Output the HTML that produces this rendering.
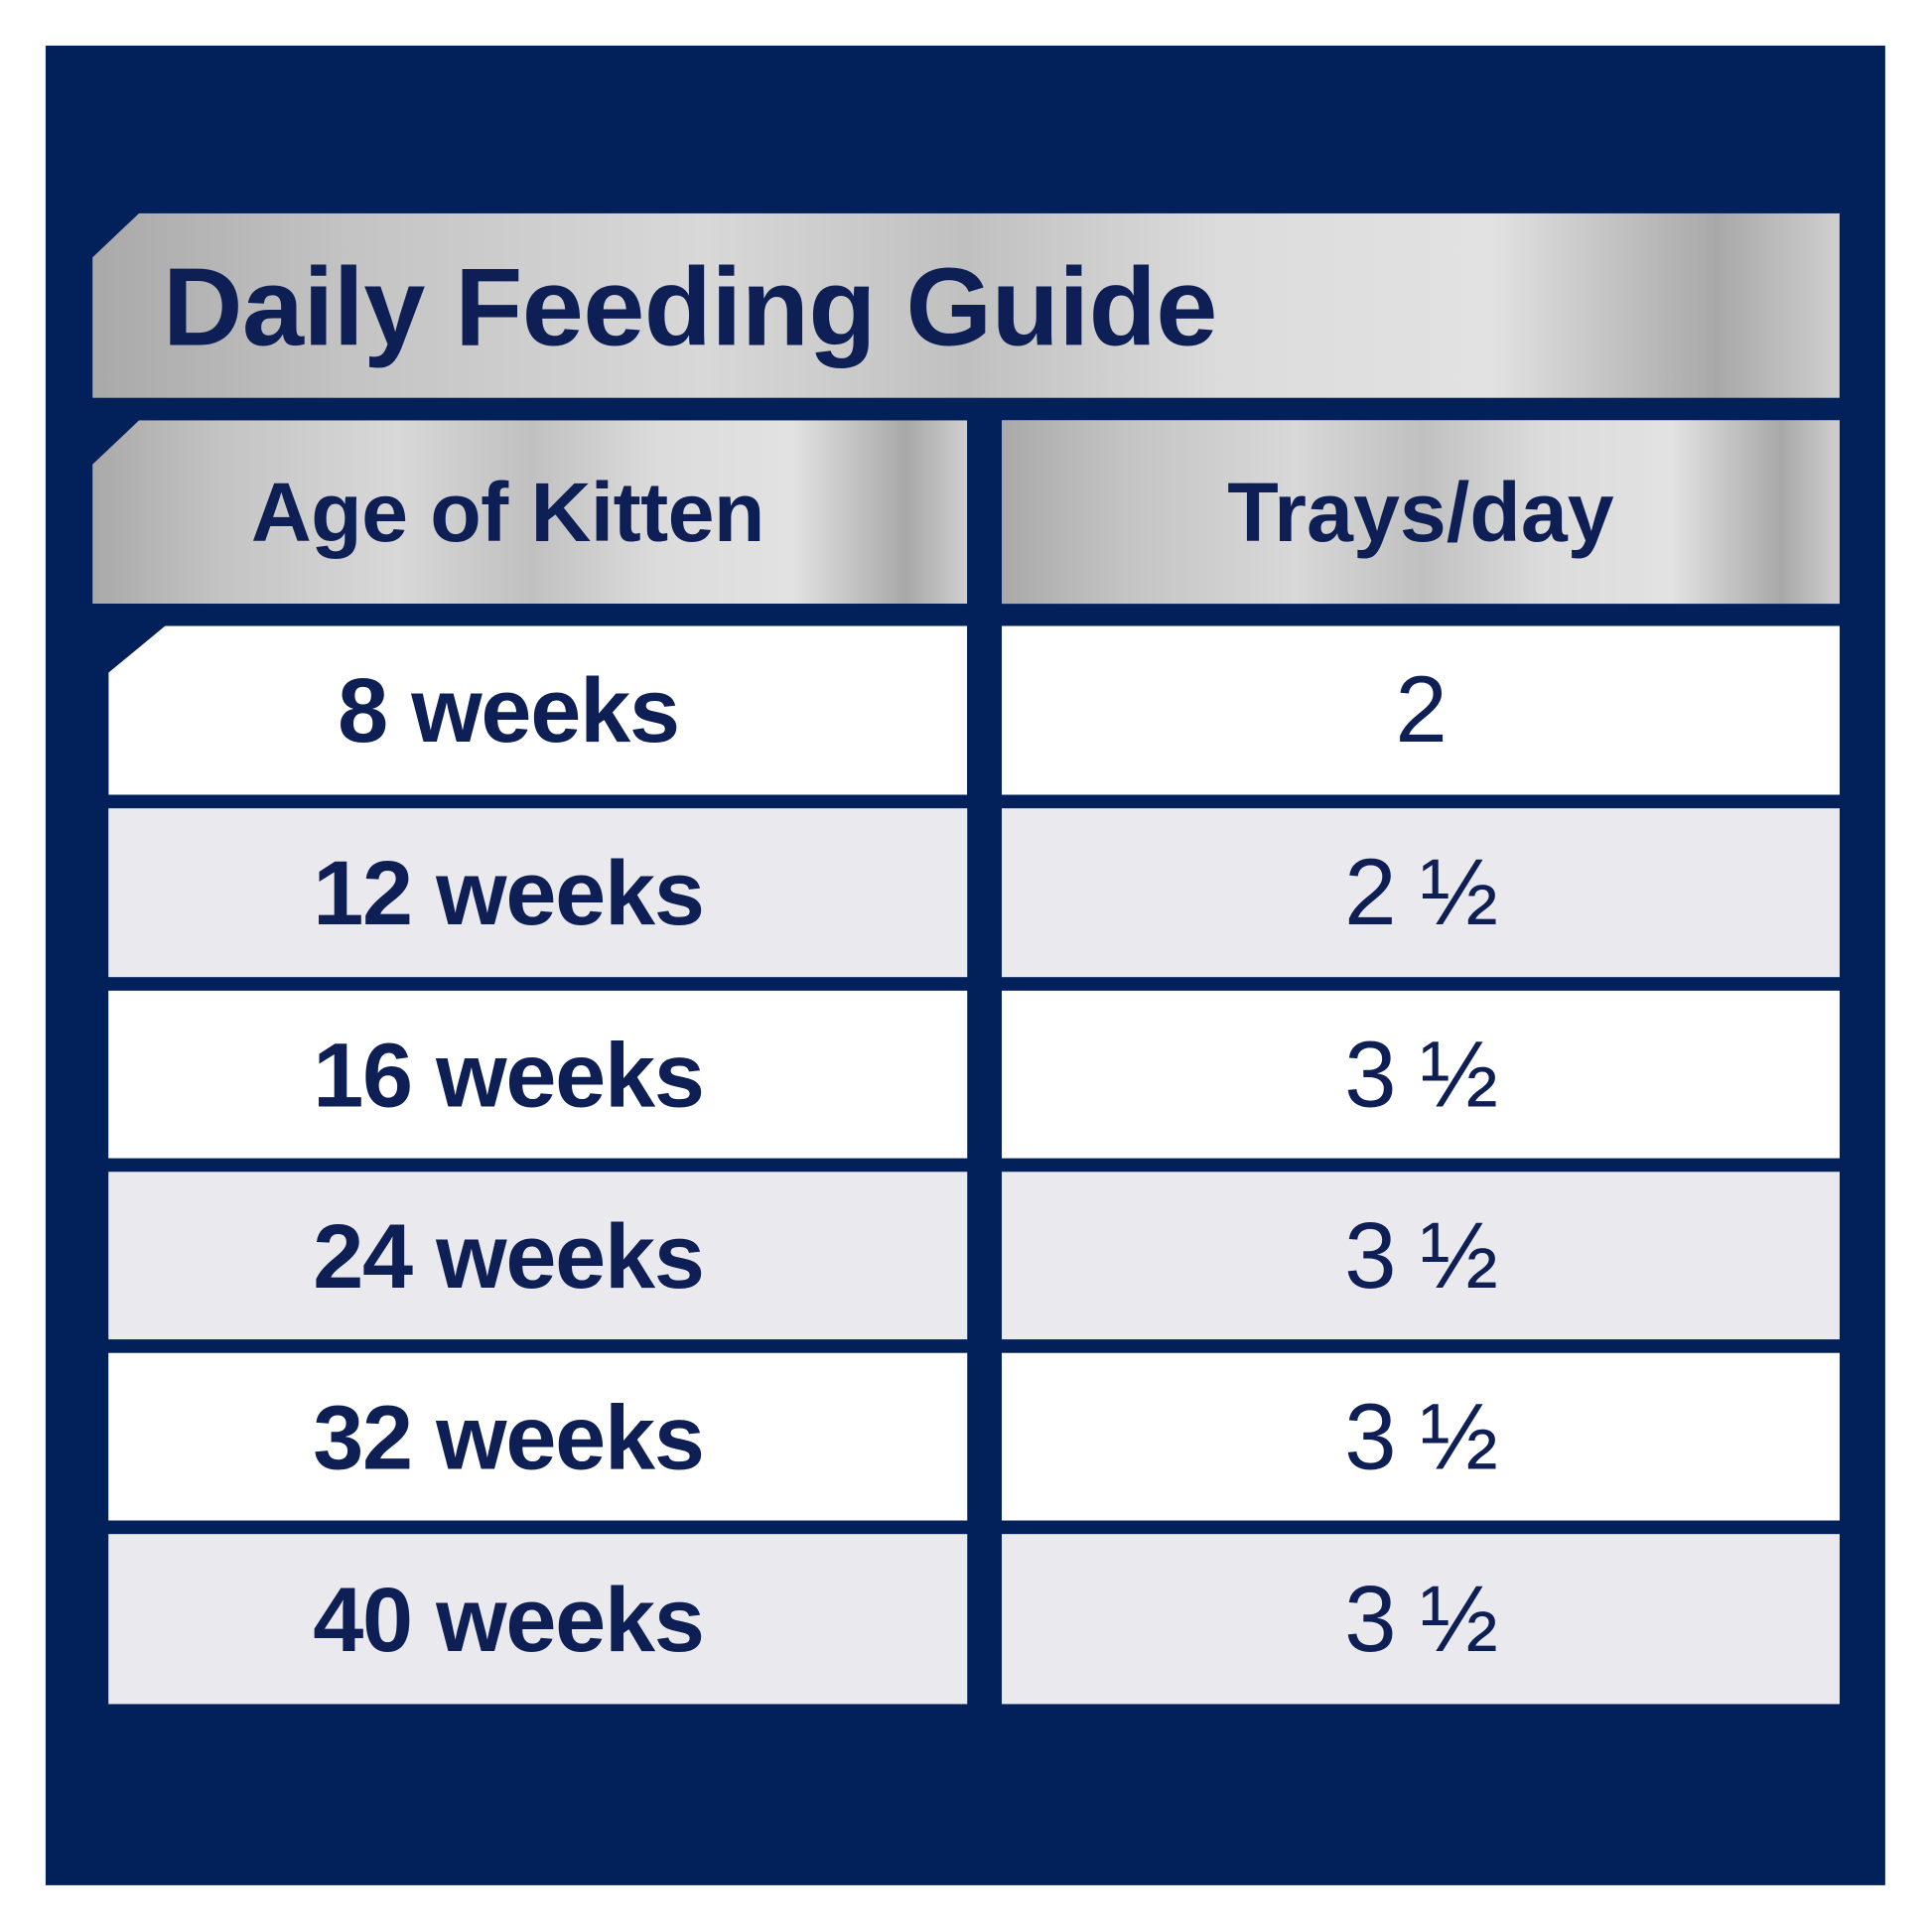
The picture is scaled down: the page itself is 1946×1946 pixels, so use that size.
<!DOCTYPE html>
<html><head><style>
html,body{margin:0;padding:0;background:#fff;}
#w{width:1568px;height:1568px;position:relative;transform:scale(1.2411);transform-origin:0 0;font-family:"Liberation Sans",sans-serif;color:#0e1f55;}
.a{position:absolute;}
.s{background:linear-gradient(90deg,#a9a9a9 0%,#c4c4c4 15%,#d8d8d8 35%,#c0c0c0 50%,#dcdcdc 65%,#e2e2e2 80%,#a8a8a8 93%,#cfcfcf 100%);}
.c{display:flex;align-items:center;justify-content:center;font-weight:bold;font-size:74px;letter-spacing:-1px;}
.l{padding-right:48px;box-sizing:border-box;}
.w{background:#fff}.g{background:#e9e9ee}
.n{font-weight:normal;font-size:76px;}
</style></head><body><div id="w">
<div class="a" style="left:37px;top:37px;width:1493px;height:1493px;background:#02205a"></div>
<div class="a s" style="left:75px;top:173px;width:1418px;height:150px;clip-path:polygon(38px 0,100% 0,100% 100%,0 100%,0 36px)"></div>
<div class="a" style="left:132px;top:200px;font-size:90px;font-weight:bold;letter-spacing:-0.5px;line-height:100px">Daily Feeding Guide</div>
<div class="a s c l" style="left:75px;top:341px;width:710px;height:149px;font-size:68px;letter-spacing:-0.5px;padding-right:36px;clip-path:polygon(38px 0,100% 0,100% 100%,0 100%,0 36px)">Age of Kitten</div>
<div class="a s c" style="left:813px;top:341px;width:680px;height:149px;font-size:68px;letter-spacing:0">Trays/day</div>
<div class="a w c l" style="left:88px;top:508px;width:697px;height:137px;clip-path:polygon(46px 0,100% 0,100% 100%,0 100%,0 38px)">8 weeks</div>
<div class="a w c n" style="left:813px;top:508px;width:680px;height:137px">2</div>
<div class="a g c l" style="left:88px;top:656px;width:697px;height:137px">12 weeks</div>
<div class="a g c n" style="left:813px;top:656px;width:680px;height:137px">2 ½</div>
<div class="a w c l" style="left:88px;top:804px;width:697px;height:136px">16 weeks</div>
<div class="a w c n" style="left:813px;top:804px;width:680px;height:136px">3 ½</div>
<div class="a g c l" style="left:88px;top:951px;width:697px;height:136px">24 weeks</div>
<div class="a g c n" style="left:813px;top:951px;width:680px;height:136px">3 ½</div>
<div class="a w c l" style="left:88px;top:1098px;width:697px;height:136px">32 weeks</div>
<div class="a w c n" style="left:813px;top:1098px;width:680px;height:136px">3 ½</div>
<div class="a g c l" style="left:88px;top:1245px;width:697px;height:138px">40 weeks</div>
<div class="a g c n" style="left:813px;top:1245px;width:680px;height:138px">3 ½</div>
</div></body></html>
